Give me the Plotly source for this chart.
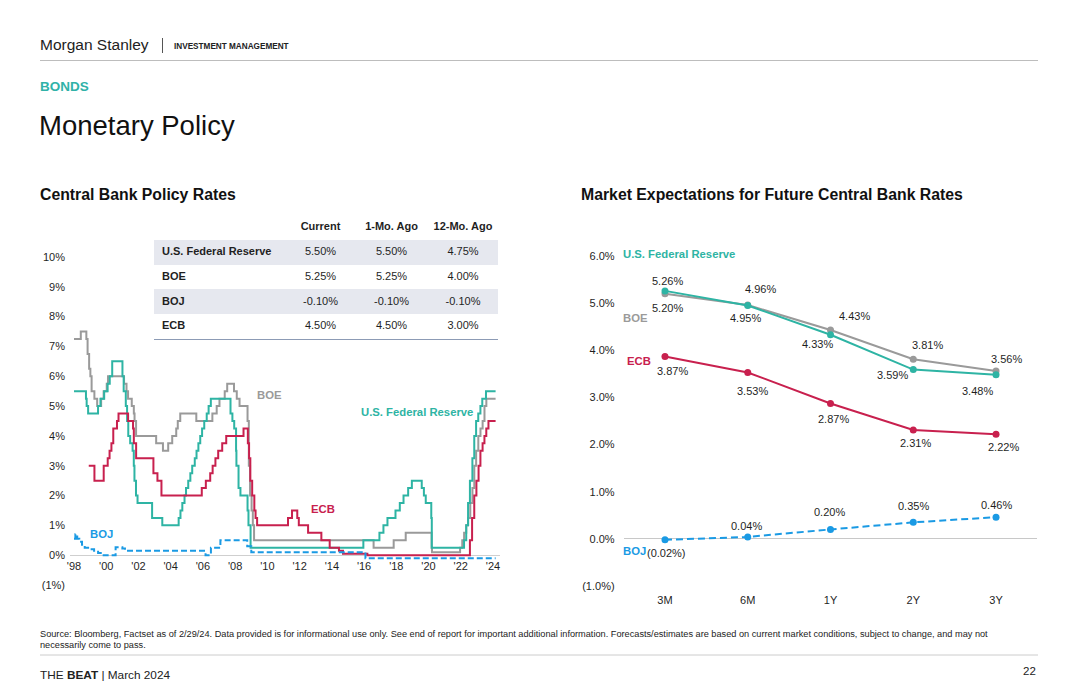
import plotly.graph_objects as go
import pandas as pd

W, H = 1080, 699
FONT = "Liberation Sans, Arial, sans-serif"
TEAL, GREY, RED, BLUE = "#2EB4A4", "#9A9A9A", "#C8204E", "#1A9AE4"
INK = "#1F1F1F"
SHADE = "#E6E8EF"


def fx(x):
    return x / W


def fy(y):
    return 1 - y / H


# ---------------- data: left chart (policy-rate change points, %) ----------------
fed_dates = ["1998-01-01", "1998-09-29", "1998-10-15", "1998-11-17", "1999-06-30", "1999-08-24", "1999-11-16",
             "2000-02-02", "2000-03-21", "2000-05-16", "2001-01-03", "2001-01-31", "2001-03-20", "2001-04-18",
             "2001-05-15", "2001-06-27", "2001-08-21", "2001-09-17", "2001-10-02", "2001-11-06", "2001-12-11",
             "2002-11-06", "2003-06-25", "2004-06-30", "2004-08-10", "2004-09-21", "2004-11-10", "2004-12-14",
             "2005-02-02", "2005-03-22", "2005-05-03", "2005-06-30", "2005-08-09", "2005-09-20", "2005-11-01",
             "2005-12-13", "2006-01-31", "2006-03-28", "2006-05-10", "2006-06-29", "2007-09-18", "2007-10-31",
             "2007-12-11", "2008-01-22", "2008-01-30", "2008-03-18", "2008-04-30", "2008-10-08", "2008-10-29",
             "2008-12-16", "2015-12-16", "2016-12-14", "2017-03-15", "2017-06-14", "2017-12-13", "2018-03-21",
             "2018-06-13", "2018-09-26", "2018-12-19", "2019-07-31", "2019-09-18", "2019-10-30", "2020-03-03",
             "2020-03-15", "2022-03-16", "2022-05-04", "2022-06-15", "2022-07-27", "2022-09-21", "2022-11-02",
             "2022-12-14", "2023-02-01", "2023-03-22", "2023-05-03", "2023-07-26", "2024-02-29"]
fed_rates = [5.50, 5.25, 5.00, 4.75, 5.00, 5.25, 5.50,
             5.75, 6.00, 6.50, 6.00, 5.50, 5.00, 4.50,
             4.00, 3.75, 3.50, 3.00, 2.50, 2.00, 1.75,
             1.25, 1.00, 1.25, 1.50, 1.75, 2.00, 2.25,
             2.50, 2.75, 3.00, 3.25, 3.50, 3.75, 4.00,
             4.25, 4.50, 4.75, 5.00, 5.25, 4.75, 4.50,
             4.25, 3.50, 3.00, 2.25, 2.00, 1.50, 1.00,
             0.25, 0.50, 0.75, 1.00, 1.25, 1.50, 1.75,
             2.00, 2.25, 2.50, 2.25, 2.00, 1.75, 1.25,
             0.25, 0.50, 1.00, 1.75, 2.50, 3.25, 4.00,
             4.50, 4.75, 5.00, 5.25, 5.50, 5.50]

boe_dates = ["1998-01-01", "1998-06-04", "1998-10-08", "1998-11-05", "1998-12-10", "1999-01-07", "1999-02-04",
             "1999-04-08", "1999-06-10", "1999-09-08", "1999-11-04", "2000-01-13", "2000-02-10", "2001-02-08",
             "2001-04-05", "2001-05-10", "2001-08-02", "2001-09-18", "2001-10-04", "2001-11-08", "2003-02-06",
             "2003-07-10", "2003-11-06", "2004-02-05", "2004-05-06", "2004-06-10", "2004-08-05", "2005-08-04",
             "2006-08-03", "2006-11-09", "2007-01-11", "2007-05-10", "2007-07-05", "2007-12-06", "2008-02-07",
             "2008-04-10", "2008-10-08", "2008-11-06", "2008-12-04", "2009-01-08", "2009-02-05", "2009-03-05",
             "2016-08-04", "2017-11-02", "2018-08-02", "2020-03-11", "2020-03-19", "2021-12-16", "2022-02-03",
             "2022-03-17", "2022-05-05", "2022-06-16", "2022-08-04", "2022-09-22", "2022-11-03", "2022-12-15",
             "2023-02-02", "2023-03-23", "2023-05-11", "2023-06-22", "2023-08-03", "2024-02-29"]
boe_rates = [7.25, 7.50, 7.25, 6.75, 6.25, 6.00, 5.50,
             5.25, 5.00, 5.25, 5.50, 5.75, 6.00, 5.75,
             5.50, 5.25, 5.00, 4.75, 4.50, 4.00, 3.75,
             3.50, 3.75, 4.00, 4.25, 4.50, 4.75, 4.50,
             4.75, 5.00, 5.25, 5.50, 5.75, 5.50, 5.25,
             5.00, 4.50, 3.00, 2.00, 1.50, 1.00, 0.50,
             0.25, 0.50, 0.75, 0.25, 0.10, 0.25, 0.50,
             0.75, 1.00, 1.25, 1.75, 2.25, 3.00, 3.50,
             4.00, 4.25, 4.50, 5.00, 5.25, 5.25]

ecb_dates = ["1998-12-01", "1999-04-09", "1999-11-05", "2000-02-04", "2000-03-17", "2000-04-28", "2000-06-09",
             "2000-09-01", "2000-10-06", "2001-05-11", "2001-08-31", "2001-09-18", "2001-11-09", "2002-12-06",
             "2003-03-07", "2003-06-06", "2005-12-06", "2006-03-08", "2006-06-15", "2006-08-09", "2006-10-11",
             "2006-12-13", "2007-03-14", "2007-06-13", "2008-07-09", "2008-10-15", "2008-11-12", "2008-12-10",
             "2009-01-21", "2009-03-11", "2009-04-08", "2009-05-13", "2011-04-13", "2011-07-13", "2011-11-09",
             "2011-12-14", "2012-07-11", "2013-05-08", "2013-11-13", "2014-06-11", "2014-09-10", "2016-03-16",
             "2022-07-27", "2022-09-14", "2022-11-02", "2022-12-21", "2023-02-08", "2023-03-22", "2023-05-10",
             "2023-06-21", "2023-08-02", "2023-09-20", "2024-02-29"]
ecb_rates = [3.00, 2.50, 3.00, 3.25, 3.50, 3.75, 4.25,
             4.50, 4.75, 4.50, 4.25, 3.75, 3.25, 2.75,
             2.50, 2.00, 2.25, 2.50, 2.75, 3.00, 3.25,
             3.50, 3.75, 4.00, 4.25, 3.75, 3.25, 2.50,
             2.00, 1.50, 1.25, 1.00, 1.25, 1.50, 1.25,
             1.00, 0.75, 0.50, 0.25, 0.15, 0.05, 0.00,
             0.50, 1.25, 2.00, 2.50, 3.00, 3.50, 3.75,
             4.00, 4.25, 4.50, 4.50]

boj_dates = ["1998-01-01", "1998-02-01", "1998-03-15", "1998-05-01", "1998-07-01", "1998-09-01", "1999-01-01",
             "1999-04-01", "1999-07-01", "1999-10-01", "2000-08-01", "2001-01-01", "2001-03-01", "2006-03-01",
             "2006-07-01", "2007-02-01", "2008-10-01", "2009-01-01", "2016-02-01", "2024-02-29"]
boj_rates = [0.55, 0.70, 0.55, 0.45, 0.35, 0.25, 0.20,
             0.15, 0.07, 0.00, 0.27, 0.22, 0.15, 0.00,
             0.25, 0.50, 0.30, 0.10, -0.10, -0.10]

year_ticks = [str(y) for y in range(1998, 2025, 2)]
year_labels = ["'" + y[2:] for y in year_ticks]
left_yticks = list(range(-1, 11))

# ---------------- data: table ----------------
tbl_banks = ["U.S. Federal Reserve", "BOE", "BOJ", "ECB"]
tbl_current = [5.50, 5.25, -0.10, 4.50]
tbl_1mo = [5.50, 5.25, -0.10, 4.50]
tbl_12mo = [4.75, 4.00, -0.10, 3.00]
tbl_headers = ["Current", "1-Mo. Ago", "12-Mo. Ago"]

# ---------------- data: right chart (market expectations, %) ----------------
horizons = ["3M", "6M", "1Y", "2Y", "3Y"]
fed_exp = [5.26, 4.95, 4.33, 3.59, 3.48]
boe_exp = [5.20, 4.96, 4.43, 3.81, 3.56]
ecb_exp = [3.87, 3.53, 2.87, 2.31, 2.22]
boj_exp = [-0.02, 0.04, 0.20, 0.35, 0.46]
right_yticks = list(range(-1, 7))

# label pixel offsets (dx, dy upward positive) - styling only
fed_off = [(3, 10), (-2, -12), (-13, -9), (-21, -5), (-19, -16)]
boe_off = [(3, -14), (13, 16), (24, 14), (14, 14), (10, 12)]
ecb_off = [(8, -15), (5, -19), (3, -15), (2, -13), (7, -13)]
boj_off = [(2, -13), (-1, 11), (-1, 17), (0, 16), (0, 12)]


def pct(v, d=2):
    return f"({abs(v):.{d}f}%)" if v < 0 else f"{v:.{d}f}%"


fig = go.Figure()

# ---- left chart lines ----
for d, r, c, dash in [(boe_dates, boe_rates, GREY, "solid"), (fed_dates, fed_rates, TEAL, "solid"),
                      (ecb_dates, ecb_rates, RED, "solid"), (boj_dates, boj_rates, BLUE, "6px,3px")]:
    assert len(d) == len(r)
    fig.add_trace(go.Scatter(x=pd.to_datetime(d), y=r, mode="lines", line=dict(color=c, width=2, shape="hv", dash=dash),
                             xaxis="x", yaxis="y", hoverinfo="skip"))

# ---- right chart lines ----
for vals, c, dash in [(boe_exp, GREY, "solid"), (fed_exp, TEAL, "solid"), (ecb_exp, RED, "solid"),
                      (boj_exp, BLUE, "7px,4px")]:
    fig.add_trace(go.Scatter(x=horizons, y=vals, mode="lines+markers", line=dict(color=c, width=2, dash=dash),
                             marker=dict(color=c, size=7), xaxis="x2", yaxis="y2", hoverinfo="skip"))

# ---- table (drawn on its own category axes: rows = banks, bands = bars) ----
TBL_W = 344                                  # table width in axis units (px-like)
col_x = [166.5, 237.5, 309]                  # column centres
name_x = 8
tbl_rows = ["header"] + tbl_banks
band_col = ["rgba(0,0,0,0)", SHADE, "rgba(0,0,0,0)", SHADE, "rgba(0,0,0,0)"]
fig.add_trace(go.Bar(y=tbl_rows, x=[TBL_W] * len(tbl_rows), base=0, orientation="h", width=1,
                     marker=dict(color=band_col, line=dict(width=0)), xaxis="x3", yaxis="y3", hoverinfo="skip"))
fig.add_trace(go.Scatter(x=[name_x] * len(tbl_banks), y=tbl_banks, text=[f"<b>{b}</b>" for b in tbl_banks],
                         mode="text", textposition="middle right", textfont=dict(family=FONT, size=11, color=INK),
                         xaxis="x3", yaxis="y3", hoverinfo="skip"))
for cx, head, col in zip(col_x, tbl_headers, [tbl_current, tbl_1mo, tbl_12mo]):
    fig.add_trace(go.Scatter(x=[cx] * (len(col) + 1), y=tbl_rows,
                             text=[f"<b>{head}</b>"] + [f"{v:.2f}%" for v in col],
                             mode="text", textposition="middle center",
                             textfont=dict(family=FONT, size=11, color=INK),
                             xaxis="x3", yaxis="y3", hoverinfo="skip"))

# ---- axes ----
t0, t1 = pd.Timestamp("1998-01-01"), pd.Timestamp("2024-01-01")
per_px = (t1 - t0) / (493 - 74)
x_left0, x_left1 = 70, 500
xr = [(t0 - per_px * (74 - x_left0)).strftime("%Y-%m-%d %H:%M"), (t1 + per_px * (x_left1 - 493)).strftime("%Y-%m-%d %H:%M")]

y_top_l, y_bot_l = 257, 585
y_top_r, y_bot_r = 256, 586
xr0, xr1 = 623.6, 1037.4

fig.update_layout(
    template="none",
    width=W, height=H, autosize=False, margin=dict(l=0, r=0, t=0, b=0, pad=0, autoexpand=False),
    paper_bgcolor="white", plot_bgcolor="rgba(0,0,0,0)",
    showlegend=False, font=dict(family=FONT, color=INK), bargap=0,
    xaxis=dict(domain=[fx(x_left0), fx(x_left1)], type="date", range=xr, anchor="free",
               position=fy(y_bot_l) + (fy(y_top_l) - fy(y_bot_l)) * (1 / 11), automargin=False,
               tickvals=year_ticks, ticktext=year_labels, showgrid=False, showline=False, zeroline=False,
               ticks="", tickfont=dict(size=11, color=INK), ticklabelstandoff=3),
    yaxis=dict(domain=[fy(y_bot_l), fy(y_top_l)], range=[-1, 10], anchor="x", tickvals=left_yticks,
               ticktext=[("(1%)" if v < 0 else f"{v}%") for v in left_yticks], showgrid=False, showline=False,
               zeroline=True, zerolinecolor="#CFCFCF", zerolinewidth=1, ticks="", automargin=False,
               tickfont=dict(size=11, color=INK), ticklabelstandoff=4),
    xaxis2=dict(domain=[fx(xr0), fx(xr1)], anchor="y2", type="category", range=[-0.5, 4.5], showgrid=False,
                showline=False, zeroline=False, ticks="", tickfont=dict(size=11, color=INK), ticklabelstandoff=6,
                automargin=False),
    yaxis2=dict(domain=[fy(y_bot_r), fy(y_top_r)], range=[-1, 6], anchor="x2", tickvals=right_yticks,
                ticktext=[pct(float(v), 1) for v in right_yticks], showgrid=False, showline=False,
                zeroline=True, zerolinecolor="#C8C8C8", zerolinewidth=1, ticks="", automargin=False,
                tickfont=dict(size=11, color=INK), ticklabelstandoff=8),
    xaxis3=dict(domain=[fx(154), fx(498)], anchor="y3", range=[0, TBL_W], showgrid=False, zeroline=False,
                showticklabels=False, ticks="", showline=True, linecolor="#8C9BB5", linewidth=1, automargin=False),
    yaxis3=dict(domain=[fy(339), fy(215)], anchor="x3", type="category", categoryorder="array",
                categoryarray=tbl_rows, range=[len(tbl_rows) - 0.5, -0.5], showgrid=False, zeroline=False,
                showticklabels=False, ticks="", showline=False, automargin=False),
)

ann = []


def txt(x, y, s, size, color=INK, bold=False, xanchor="left"):
    ann.append(dict(x=fx(x), y=fy(y), xref="paper", yref="paper", text=f"<b>{s}</b>" if bold else s,
                    showarrow=False, xanchor=xanchor, yanchor="middle", borderpad=0,
                    font=dict(family=FONT, size=size, color=color)))


# header / page text
txt(39, 45, "Morgan Stanley", 15.5, "#222222")
txt(173, 46, "INVESTMENT MANAGEMENT", 8.2, "#222222", bold=True)
txt(39, 87, "BONDS", 13.5, "#30B2A8", bold=True)
txt(38, 126, "Monetary Policy", 27.5, "#111111")
txt(39, 195, "Central Bank Policy Rates", 15.8, "#111111", bold=True)
txt(580, 195, "Market Expectations for Future Central Bank Rates", 15.8, "#111111", bold=True)
txt(39, 634, "Source: Bloomberg, Factset as of 2/29/24. Data provided is for informational use only. See end of report "
             "for important additional information. Forecasts/estimates are based on current market conditions, "
             "subject to change, and may not", 9.2, "#222222")
txt(39, 645, "necessarily come to pass.", 9.2, "#222222")
txt(39, 675, "THE <b>BEAT</b> | March 2024", 11.8, "#222222")
txt(1037, 671, "22", 11.5, "#222222", xanchor="right")

# series labels, left
txt(269, 395, "BOE", 11.3, GREY, bold=True, xanchor="center")
txt(417, 412, "U.S. Federal Reserve", 11.3, TEAL, bold=True, xanchor="center")
txt(323, 509, "ECB", 11.3, RED, bold=True, xanchor="center")
txt(101, 534, "BOJ", 11.3, BLUE, bold=True, xanchor="center")

# series labels, right
txt(622, 254, "U.S. Federal Reserve", 11.3, TEAL, bold=True)
txt(622, 318, "BOE", 11.3, GREY, bold=True)
txt(626, 361, "ECB", 11.3, RED, bold=True)
txt(622, 551, "BOJ", 11.3, BLUE, bold=True)

# value labels, right
for vals, offs in [(fed_exp, fed_off), (boe_exp, boe_off), (ecb_exp, ecb_off), (boj_exp, boj_off)]:
    for h, v, (dx, dy) in zip(horizons, vals, offs):
        ann.append(dict(x=h, y=v, xref="x2", yref="y2", text=pct(v), showarrow=False, xshift=dx, yshift=dy,
                        font=dict(family=FONT, size=11, color=INK)))

fig.update_layout(annotations=ann)

# rules / lines
shapes = [
    dict(type="line", xref="paper", yref="paper", x0=fx(40), x1=fx(1038), y0=fy(60.5), y1=fy(60.5),
         line=dict(color="#BDBDBD", width=1)),
    dict(type="line", xref="paper", yref="paper", x0=fx(162.5), x1=fx(162.5), y0=fy(38), y1=fy(53),
         line=dict(color="#555555", width=1)),
    dict(type="line", xref="paper", yref="paper", x0=fx(40), x1=fx(1038), y0=fy(655), y1=fy(655),
         line=dict(color="#CCCCCC", width=1)),
]
fig.update_layout(shapes=shapes)

fig.write_html("out.html", config={"displayModeBar": False, "staticPlot": True},
               post_script="document.body.style.margin='0px';document.body.style.overflow='hidden';")
